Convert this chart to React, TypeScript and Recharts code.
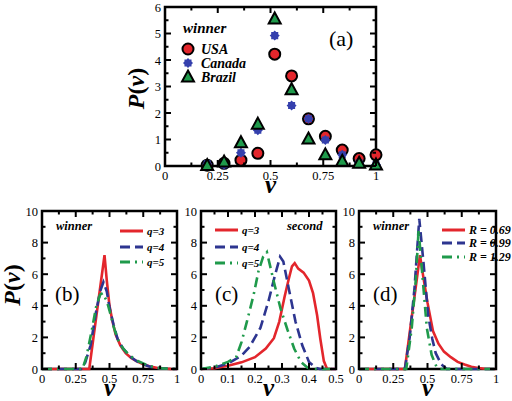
import React from "react";
import {
  LineChart,
  Line,
  ScatterChart,
  Scatter,
  XAxis,
  YAxis,
  ReferenceArea,
  Legend,
} from "recharts";

const SERIF = "Liberation Serif";
const RED = "#e3262c";
const BLUE = "#2d3590";
const STAR_BLUE = "#3540ad";
const GREEN = "#1f9a4b";

/* ── panel (a): winner vote share, three countries ─────────────────────── */

const aBins = [0.2, 0.28, 0.36, 0.44, 0.52, 0.6, 0.68, 0.76, 0.84, 0.92, 1.0];
const usaP = [0.03, 0.1, 0.22, 0.48, 4.22, 3.4, 1.78, 1.12, 0.6, 0.28, 0.42];
const canadaP = [0.08, 0.05, 0.5, 1.35, 4.92, 2.28, 1.78, 0.98, 0.42, 0.12, 0.05];
const brazilP = [0.02, 0.15, 0.88, 1.58, 5.55, 2.88, 1.02, 0.42, 0.18, 0.1, 0.04];

/* ── panel (b): winner, q = 3, 4, 5 ────────────────────────────────────── */

const bQ3x = [0, 0.35, 0.463, 0.48, 0.5, 0.52, 0.545, 0.58, 0.62, 0.66, 0.7, 0.75, 0.8, 0.85, 0.9, 0.95, 1.0];
const bQ3y = [0, 0, 7.2, 5.6, 4.0, 3.1, 2.2, 1.5, 1.0, 0.7, 0.5, 0.3, 0.16, 0.08, 0.03, 0.01, 0];
const bQ4x = [0, 0.29, 0.32, 0.36, 0.4, 0.43, 0.455, 0.48, 0.5, 0.53, 0.56, 0.6, 0.65, 0.7, 0.75, 0.8, 0.85, 0.9, 1.0];
const bQ4y = [0, 0, 0.4, 1.5, 3.6, 4.9, 5.5, 4.9, 3.9, 2.8, 1.9, 1.3, 0.8, 0.5, 0.3, 0.15, 0.07, 0.03, 0];
const bQ5x = [0, 0.3, 0.33, 0.37, 0.4, 0.43, 0.45, 0.48, 0.5, 0.53, 0.56, 0.6, 0.65, 0.7, 0.75, 0.8, 0.85, 0.9, 1.0];
const bQ5y = [0, 0, 0.8, 2.5, 3.9, 4.7, 4.8, 4.3, 3.7, 2.7, 1.9, 1.3, 0.85, 0.55, 0.35, 0.18, 0.08, 0.03, 0];

/* ── panel (c): second place, q = 3, 4, 5 ──────────────────────────────── */

const cQ3x = [0, 0.05, 0.1, 0.15, 0.2, 0.24, 0.27, 0.29, 0.31, 0.325, 0.337, 0.347, 0.36, 0.38, 0.4, 0.415, 0.43, 0.442, 0.455, 0.467, 0.5];
const cQ3y = [0, 0.05, 0.2, 0.42, 0.75, 1.3, 1.95, 3.0, 4.6, 5.7, 6.5, 6.7, 6.35, 6.1, 5.6, 4.8, 3.4, 1.9, 0.5, 0, 0];
const cQ4x = [0, 0.05, 0.1, 0.15, 0.18, 0.22, 0.25, 0.275, 0.293, 0.305, 0.325, 0.35, 0.375, 0.4, 0.425, 0.44, 0.5];
const cQ4y = [0, 0.08, 0.35, 0.85, 1.4, 2.6, 4.3, 6.0, 7.1, 6.8, 5.1, 3.0, 1.5, 0.45, 0.08, 0, 0];
const cQ5x = [0, 0.05, 0.1, 0.13, 0.15, 0.17, 0.195, 0.213, 0.23, 0.244, 0.27, 0.295, 0.32, 0.345, 0.37, 0.395, 0.42, 0.5];
const cQ5y = [0, 0.15, 0.45, 0.75, 1.7, 3.0, 4.7, 6.2, 7.1, 7.4, 5.5, 3.8, 2.5, 1.3, 0.45, 0.08, 0, 0];

/* ── panel (d): winner, R = 0.69, 0.99, 1.29 ──────────────────────────── */

const dR1x = [0, 0.335, 0.445, 0.47, 0.5, 0.54, 0.58, 0.62, 0.67, 0.72, 0.77, 0.82, 0.87, 0.92, 1.0];
const dR1y = [0, 0, 7.2, 5.8, 4.2, 2.4, 1.6, 1.1, 0.75, 0.45, 0.28, 0.14, 0.06, 0.02, 0];
const dR2x = [0, 0.335, 0.37, 0.405, 0.44, 0.47, 0.505, 0.535, 0.56, 0.6, 0.64, 1.0];
const dR2y = [0, 0, 2.0, 5.1, 9.5, 6.8, 3.4, 1.9, 1.0, 0.3, 0, 0];
const dR3x = [0, 0.345, 0.385, 0.415, 0.435, 0.465, 0.495, 0.53, 0.565, 0.59, 1.0];
const dR3y = [0, 0, 2.6, 5.7, 8.8, 5.7, 2.6, 0.9, 0.15, 0, 0];

/* ── tick sets ──────────────────────────────────────────────────────────── */

const unitMajor = [0, 0.25, 0.5, 0.75, 1];
const unitMinor = [0.125, 0.375, 0.625, 0.875];
const halfMajor = [0, 0.1, 0.2, 0.3, 0.4, 0.5];
const halfMinor = [0.05, 0.15, 0.25, 0.35, 0.45];
const pMajorA = [0, 1, 2, 3, 4, 5, 6];
const pMinorA = [0.5, 1.5, 2.5, 3.5, 4.5, 5.5];
const pMajor = [0, 2, 4, 6, 8, 10];
const pMinor = [1, 3, 5, 7, 9];

/* ── helpers ────────────────────────────────────────────────────────────── */

const pts = (xs: number[], ys: number[]) => xs.map((x, i) => ({ x, y: ys[i] }));

const serif = (size: number, bold = false, italic = false): React.CSSProperties => ({
  fontFamily: SERIF,
  fontSize: size,
  fontWeight: bold ? "bold" : "normal",
  fontStyle: italic ? "italic" : "normal",
  fill: "#000",
});

// inward ticks on both opposite sides, labels only on majors
function xTick(major: number[], plotH: number) {
  return (props: any) => {
    const { x, y, payload } = props;
    const isMajor = major.includes(payload.value);
    const len = isMajor ? 6 : 3.5;
    return (
      <g>
        <line x1={x} x2={x} y1={y} y2={y - len} stroke="#000" strokeWidth={2} />
        <line x1={x} x2={x} y1={y - plotH} y2={y - plotH + len} stroke="#000" strokeWidth={2} />
        {isMajor && (
          <text x={x} y={y + 14} textAnchor="middle" style={serif(12.5)}>
            {String(payload.value)}
          </text>
        )}
      </g>
    );
  };
}

function yTick(major: number[], plotW: number) {
  return (props: any) => {
    const { x, y, payload } = props;
    const isMajor = major.includes(payload.value);
    const len = isMajor ? 6 : 3.5;
    return (
      <g>
        <line x1={x} x2={x + len} y1={y} y2={y} stroke="#000" strokeWidth={2} />
        <line x1={x + plotW} x2={x + plotW - len} y1={y} y2={y} stroke="#000" strokeWidth={2} />
        {isMajor && (
          <text x={x - 4} y={y + 4.5} textAnchor="end" style={serif(12.5)}>
            {String(payload.value)}
          </text>
        )}
      </g>
    );
  };
}

function xTitle(props: any) {
  const vb = props.viewBox || { x: 0, y: 0, width: 0 };
  return (
    <text x={vb.x + vb.width / 2} y={vb.y + 27} textAnchor="middle" style={serif(25, true, true)}>
      v
    </text>
  );
}

function yTitle(baseX: number, dy: number) {
  return (props: any) => {
    const vb = props.viewBox || { y: 0, height: 0 };
    const cy = vb.y + vb.height / 2 + dy;
    return (
      <text transform={`translate(${baseX},${cy}) rotate(-90)`} textAnchor="middle" style={serif(24, true)}>
        <tspan fontStyle="italic">P</tspan>
        <tspan>(</tspan>
        <tspan fontStyle="italic">v</tspan>
        <tspan>)</tspan>
      </text>
    );
  };
}

/* ── markers ────────────────────────────────────────────────────────────── */

function Circle({ cx, cy }: any) {
  return <circle cx={cx} cy={cy} r={5.5} fill={RED} stroke="#000" strokeWidth={2} />;
}

function Star({ cx, cy }: any) {
  const p: string[] = [];
  for (let i = 0; i < 16; i++) {
    const r = i % 2 === 0 ? 5 : 3.8;
    const a = (Math.PI * i) / 8;
    p.push(`${cx + r * Math.cos(a)},${cy + r * Math.sin(a)}`);
  }
  return <polygon points={p.join(" ")} fill={STAR_BLUE} />;
}

function Tri({ cx, cy }: any) {
  return (
    <polygon
      points={`${cx},${cy - 6.5} ${cx + 6},${cy + 4.5} ${cx - 6},${cy + 4.5}`}
      fill={GREEN} stroke="#000" strokeWidth={2} strokeLinejoin="miter"
    />
  );
}

/* ── panel (a) ──────────────────────────────────────────────────────────── */

const A_W = 270, A_H = 200, A_YW = 45, A_XH = 34;
const A_M = { top: 7, right: 14, bottom: 0, left: 0 };
const A_PW = A_W - A_YW - A_M.right;
const A_PH = A_H - A_M.top - A_XH;

const countries = [
  { name: "USA", vals: usaP, Shape: Circle },
  { name: "Canada", vals: canadaP, Shape: Star },
  { name: "Brazil", vals: brazilP, Shape: Tri },
];

function OverlayA() {
  const rows = [49, 63, 77];
  return (
    <svg width={A_W} height={A_H}>
      <text x={63} y={33} style={serif(15, true, true)}>winner</text>
      {countries.map((c, i) => (
        <g key={c.name}>
          <c.Shape cx={68} cy={rows[i]} />
          <text x={81} y={rows[i] + 5} style={serif(14, true, true)}>
            {c.name}
          </text>
        </g>
      ))}
      <text x={209} y={46} style={serif(22)}>(a)</text>
    </svg>
  );
}

function PanelA() {
  return (
    <div style={{ position: "absolute", left: 120, top: 0 }}>
      <ScatterChart width={A_W} height={A_H} margin={A_M}>
        <XAxis type="number" dataKey="x" domain={[0, 1]} ticks={[...unitMajor, ...unitMinor]}
          interval={0} height={A_XH} tickSize={0} tickMargin={0} axisLine={false} tickLine={false}
          tick={xTick(unitMajor, A_PH)} label={xTitle} />
        <YAxis type="number" dataKey="y" domain={[0, 6]} ticks={[...pMajorA, ...pMinorA]}
          interval={0} width={A_YW} tickSize={0} tickMargin={0} axisLine={false} tickLine={false}
          tick={yTick(pMajorA, A_PW)} label={yTitle(24, 2)} />
        <ReferenceArea x1={0} x2={1} y1={0} y2={6} fill="none" stroke="#000" strokeWidth={2.5} />
        {countries.map((c) => (
          <Scatter key={c.name} name={c.name} data={pts(aBins, c.vals)}
            shape={(p: any) => <c.Shape cx={p.cx} cy={p.cy} />} isAnimationActive={false} />
        ))}
        <Legend layout="vertical" align="center" verticalAlign="middle"
          wrapperStyle={{ left: 0, top: 0, width: A_W, height: A_H, pointerEvents: "none" }}
          content={() => <OverlayA />} />
      </ScatterChart>
    </div>
  );
}

/* ── line panels (b)(c)(d) ─────────────────────────────────────────────── */

type Series = { name: string; xs: number[]; ys: number[]; color: string; dash?: string };

const SOLID = undefined;
const DASH = "10 5";
const DASHDOT = "10 5 2 5";

const bSeries: Series[] = [
  { name: "q=3", xs: bQ3x, ys: bQ3y, color: RED, dash: SOLID },
  { name: "q=4", xs: bQ4x, ys: bQ4y, color: BLUE, dash: DASH },
  { name: "q=5", xs: bQ5x, ys: bQ5y, color: GREEN, dash: DASHDOT },
];
const cSeries: Series[] = [
  { name: "q=3", xs: cQ3x, ys: cQ3y, color: RED, dash: SOLID },
  { name: "q=4", xs: cQ4x, ys: cQ4y, color: BLUE, dash: DASH },
  { name: "q=5", xs: cQ5x, ys: cQ5y, color: GREEN, dash: DASHDOT },
];
const dSeries: Series[] = [
  { name: "R = 0.69", xs: dR1x, ys: dR1y, color: RED, dash: SOLID },
  { name: "R = 0.99", xs: dR2x, ys: dR2y, color: BLUE, dash: DASH },
  { name: "R = 1.29", xs: dR3x, ys: dR3y, color: GREEN, dash: DASHDOT },
];

const L_H = 206, L_XH = 32, L_TOP = 16;
const L_PH = L_H - L_TOP - L_XH;

function LinePanel(props: {
  left: number; width: number; yw: number; right: number;
  xMax: number; xMajor: number[]; xMinor: number[];
  series: Series[]; tag: string; tagX: number; note: string; noteX: number;
  legX: number; legYs: number[]; legFont: number; yTitleOn?: boolean;
}) {
  const { left, width, yw, right, xMax, xMajor, xMinor, series } = props;
  const pw = width - yw - right;
  return (
    <div style={{ position: "absolute", left, top: 195 }}>
      <LineChart width={width} height={L_H} margin={{ top: L_TOP, right, bottom: 0, left: 0 }}>
        <XAxis type="number" dataKey="x" domain={[0, xMax]} ticks={[...xMajor, ...xMinor]}
          interval={0} height={L_XH} tickSize={0} tickMargin={0} axisLine={false} tickLine={false}
          tick={xTick(xMajor, L_PH)} label={xTitle} />
        <YAxis type="number" domain={[0, 10]} ticks={[...pMajor, ...pMinor]}
          interval={0} width={yw} tickSize={0} tickMargin={0} axisLine={false} tickLine={false}
          tick={yTick(pMajor, pw)} label={props.yTitleOn ? yTitle(20, -5) : undefined} />
        <ReferenceArea x1={0} x2={xMax} y1={0} y2={10} fill="none" stroke="#000" strokeWidth={2.5} />
        {series.map((s) => (
          <Line key={s.name} name={s.name} data={pts(s.xs, s.ys)} dataKey="y" type="linear"
            stroke={s.color} strokeWidth={2.6} strokeDasharray={s.dash} dot={false}
            isAnimationActive={false} />
        ))}
        <Legend layout="vertical" align="center" verticalAlign="middle"
          wrapperStyle={{ left: 0, top: 0, width, height: L_H, pointerEvents: "none" }}
          content={() => (
            <svg width={width} height={L_H}>
              <text x={props.noteX} y={35} style={serif(12.5, true, true)}>{props.note}</text>
              <text x={props.tagX} y={106} style={serif(21)}>{props.tag}</text>
              {series.map((s, i) => (
                <g key={s.name}>
                  <line x1={props.legX} x2={props.legX + 23} y1={props.legYs[i]} y2={props.legYs[i]}
                    stroke={s.color} strokeWidth={3} strokeDasharray={s.dash} />
                  <text x={props.legX + 27} y={props.legYs[i] + 4} style={serif(props.legFont, true, true)}>
                    {s.name}
                  </text>
                </g>
              ))}
            </svg>
          )} />
      </LineChart>
    </div>
  );
}

export default function App() {
  return (
    <div style={{ position: "absolute", left: 0, top: 0, width: 512, height: 401, background: "#fff", overflow: "hidden", fontFamily: SERIF }}>
      <PanelA />
      <LinePanel left={0} width={190} yw={42} right={13} xMax={1} xMajor={unitMajor} xMinor={unitMinor}
        series={bSeries} tag="(b)" tagX={55} note="winner" noteX={56}
        legX={120} legYs={[36, 52, 67]} legFont={11} yTitleOn />
      <LinePanel left={160} width={190} yw={41} right={14} xMax={0.5} xMajor={halfMajor} xMinor={halfMinor}
        series={cSeries} tag="(c)" tagX={55} note="second" noteX={127}
        legX={55} legYs={[35, 52, 68]} legFont={11} />
      <LinePanel left={320} width={192} yw={39} right={16} xMax={1} xMajor={unitMajor} xMinor={unitMinor}
        series={dSeries} tag="(d)" tagX={53} note="winner" noteX={53}
        legX={122} legYs={[35, 48, 62]} legFont={12} />
    </div>
  );
}
